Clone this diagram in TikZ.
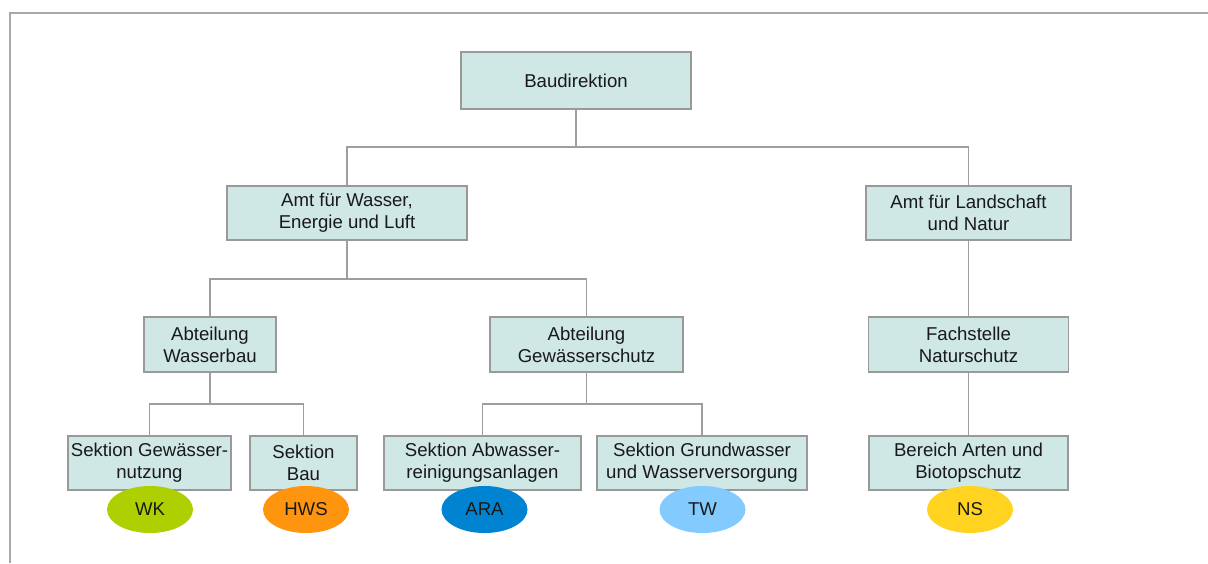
\documentclass[tikz,border=0pt]{standalone}
\usepackage{fontspec}
\setmainfont{Liberation Sans}
\usetikzlibrary{shapes.geometric}
\definecolor{boxfill}{HTML}{CFE7E5}
\definecolor{boxline}{HTML}{999999}
\definecolor{wire}{HTML}{9E9E9E}
\definecolor{frameline}{HTML}{A8A8A8}
\definecolor{cWK}{HTML}{AECF00}
\definecolor{cHWS}{HTML}{FF950E}
\definecolor{cARA}{HTML}{0084D1}
\definecolor{cTW}{HTML}{83CAFF}
\definecolor{cNS}{HTML}{FFD320}
\begin{document}
\begin{tikzpicture}[x=0.5pt,y=-0.5pt,
  unit/.style={draw=boxline, line width=0.7pt, fill=boxfill, rectangle,
    inner sep=0pt, align=center, text=black!90,
    font=\fontsize{9.3}{11}\selectfont},
  badge/.style={ellipse, draw=none, inner sep=0pt,
    minimum width=43pt, minimum height=23.5pt, text=black!90,
    font=\fontsize{9.3}{11}\selectfont},
  link/.style={draw=wire, line width=0.75pt}]
\useasboundingbox (0,0) rectangle (1208,563);
\fill[white] (0,0) rectangle (1208,563);
% outer frame, open to the right and bottom
\draw[frameline, line width=1pt] (10,563) -- (10,13) -- (1208,13);

% top level
\node[unit, minimum width=115pt, minimum height=28.5pt] (baud) at (576,80.5) {Baudirektion};
% offices
\node[unit, minimum width=120pt, minimum height=27pt] (amtw) at (347,213) {Amt für Wasser,\\Energie und Luft};
\node[unit, minimum width=102.5pt, minimum height=27pt] (amtl) at (968.5,213) {Amt für Landschaft\\und Natur};
% departments
\node[unit, minimum width=66pt, minimum height=27.5pt] (abtwb) at (210,344.5) {Abteilung\\Wasserbau};
\node[unit, minimum width=96.5pt, minimum height=27.5pt] (abtgs) at (586.5,344.5) {Abteilung\\Gewässerschutz};
\node[unit, minimum width=100pt, minimum height=27.5pt] (fach) at (968.5,344.5) {Fachstelle\\Naturschutz};
% sections
\node[unit, minimum width=81.5pt, minimum height=27pt] (sgn) at (149.5,463) {Sektion Gewässer-\\nutzung};
\node[unit, minimum width=53.5pt, minimum height=27pt] (sbau) at (303.5,463) {Sektion\\Bau};
\node[unit, minimum width=98.5pt, minimum height=27pt] (sabw) at (482.5,463) {Sektion Abwasser-\\reinigungsanlagen};
\node[unit, minimum width=105pt, minimum height=27pt] (sgw) at (702,463) {Sektion Grundwasser\\und Wasserversorgung};
\node[unit, minimum width=99.5pt, minimum height=27pt] (bart) at (968.5,463) {Bereich Arten und\\Biotopschutz};

% bus points of the tree, each straight below its parent
\coordinate (bus1) at (baud.south |- 0,147);
\coordinate (bus2) at (amtw.south |- 0,279);
\coordinate (bus3) at (abtwb.south |- 0,404);
\coordinate (bus4) at (abtgs.south |- 0,404);

% connectors
\draw[link] (baud.south) -- (bus1);
\draw[link] (amtw.north) |- (bus1) -| (amtl.north);
\draw[link] (amtw.south) -- (bus2);
\draw[link] (abtwb.north) |- (bus2) -| (abtgs.north);
\draw[link] (amtl.south) -- (fach.north);
\draw[link] (abtwb.south) -- (bus3);
\draw[link] (sgn.north) |- (bus3) -| (sbau.north);
\draw[link] (abtgs.south) -- (bus4);
\draw[link] (sabw.north) |- (bus4) -| (sgw.north);
\draw[link] (fach.south) -- (bart.north);

% abbreviation badges
\node[badge, fill=cWK] (wk) at (150,509.5) {WK};
\node[badge, fill=cHWS] (hws) at (306,509.5) {HWS};
\node[badge, fill=cARA] (ara) at (484.5,509.5) {ARA};
\node[badge, fill=cTW] (tw) at (702.5,509.5) {TW};
\node[badge, fill=cNS] (ns) at (970,509.5) {NS};
\end{tikzpicture}
\end{document}
